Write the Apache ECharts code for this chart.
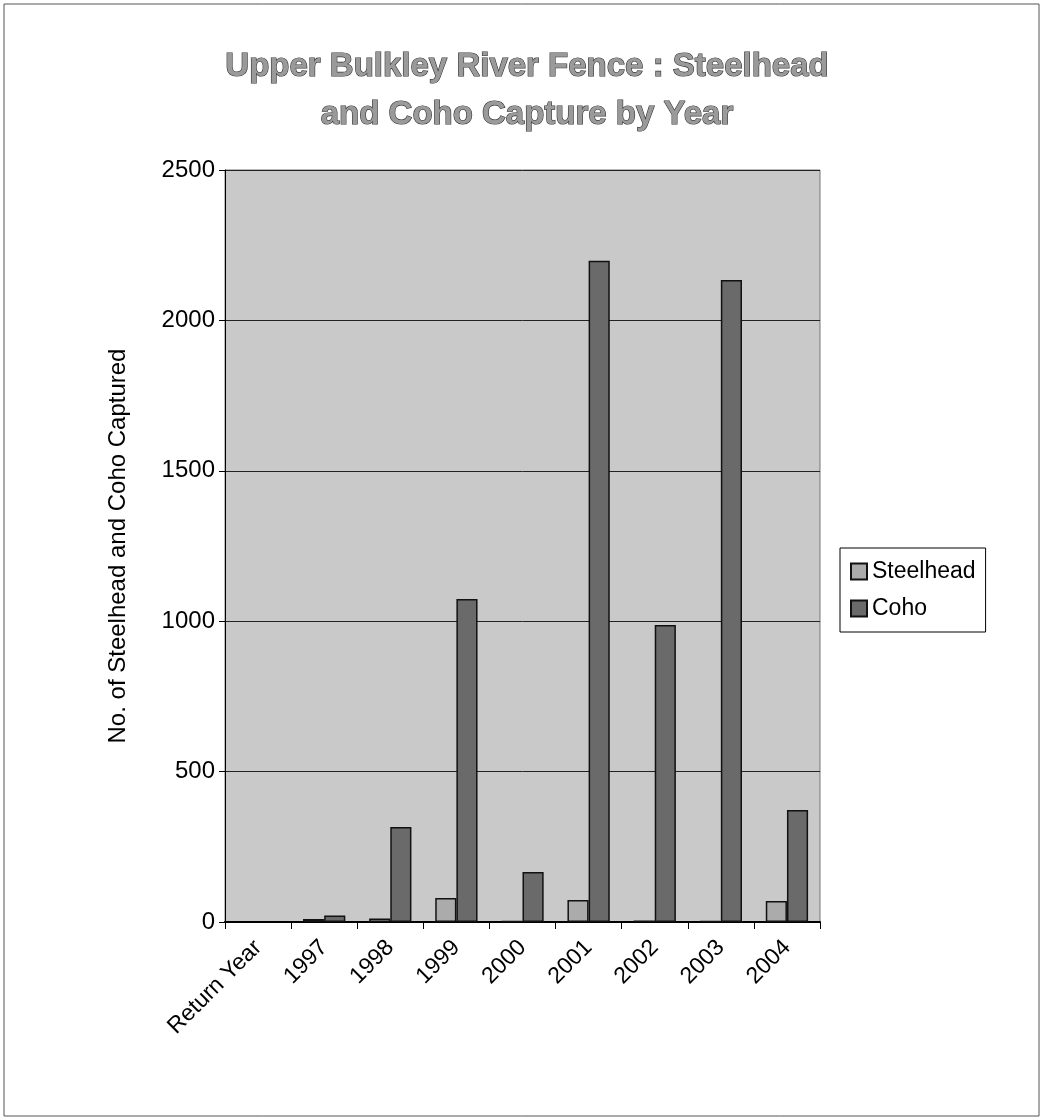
<!DOCTYPE html>
<html>
<head>
<meta charset="utf-8">
<script src="https://cdn.jsdelivr.net/npm/echarts@6/dist/echarts.min.js"></script>
<style>
  html, body { margin: 0; padding: 0; background: #fff; }
  #main { width: 1044px; height: 1120px; }
</style>
</head>
<body>
<div id="main"></div>
<script>
const categories = ['Return Year', '1997', '1998', '1999', '2000', '2001', '2002', '2003', '2004'];
const steelhead = [null, 10, 12, 80, 3, 73, 5, 3, 70];
const coho = [null, 22, 316, 1074, 166, 2198, 987, 2134, 372];

const chart = echarts.init(document.getElementById('main'));

const option = {
  backgroundColor: '#fff',
  textStyle: { fontFamily: 'Liberation Sans, Arial, sans-serif' },
  title: {
    text: 'Upper Bulkley River Fence : Steelhead\nand Coho Capture by Year',
    left: 522,
    textAlign: 'center',
    top: 38,
    textStyle: {
      fontSize: 33,
      fontWeight: 'bold',
      color: '#9a9a9a',
      textBorderColor: '#333',
      textBorderWidth: 1.2,
      lineHeight: 48
    }
  },
  legend: {
    orient: 'vertical',
    left: 840,
    top: 548,
    icon: 'rect',
    itemWidth: 16,
    itemHeight: 16,
    itemGap: 14,
    padding: [12, 10, 12, 10],
    borderColor: '#000',
    borderWidth: 1,
    textStyle: { fontSize: 23, color: '#000' },
    data: ['Steelhead', 'Coho']
  },
  grid: {
    left: 225,
    right: 224,
    top: 170,
    bottom: 198,
    show: true,
    backgroundColor: '#c9c9c9',
    borderColor: '#777',
    borderWidth: 1
  },
  xAxis: {
    type: 'category',
    data: categories,
    axisLine: { lineStyle: { color: '#000', width: 2 } },
    axisTick: { show: true, length: 7, lineStyle: { color: '#000' } },
    axisLabel: { rotate: 45, fontSize: 23, color: '#000', margin: 22 }
  },
  yAxis: {
    type: 'value',
    min: 0,
    max: 2500,
    interval: 500,
    name: 'No. of Steelhead and Coho Captured',
    nameLocation: 'middle',
    nameGap: 95,
    nameTextStyle: { fontSize: 24, color: '#000' },
    axisLine: { show: true, lineStyle: { color: '#000' } },
    axisTick: { show: true, length: 6, lineStyle: { color: '#000' } },
    axisLabel: { fontSize: 24, color: '#000', margin: 10, formatter: function (v) { return String(v); } },
    splitLine: { lineStyle: { color: '#222', width: 1 } }
  },
  series: [
    {
      name: 'Steelhead',
      type: 'bar',
      data: steelhead,
      barGap: '0%',
      barCategoryGap: '36%',
      itemStyle: { color: '#ababab', borderColor: '#111', borderWidth: 1.5 }
    },
    {
      name: 'Coho',
      type: 'bar',
      data: coho,
      itemStyle: { color: '#6a6a6a', borderColor: '#111', borderWidth: 1.5 }
    }
  ],
  graphic: [
    {
      type: 'rect',
      shape: { x: 4, y: 4, width: 1035, height: 1112 },
      style: { fill: 'none', stroke: '#555', lineWidth: 1 },
      silent: true
    }
  ]
};

chart.setOption(option);
window.addEventListener('resize', function () {
  chart.resize();
});
</script>
</body>
</html>
